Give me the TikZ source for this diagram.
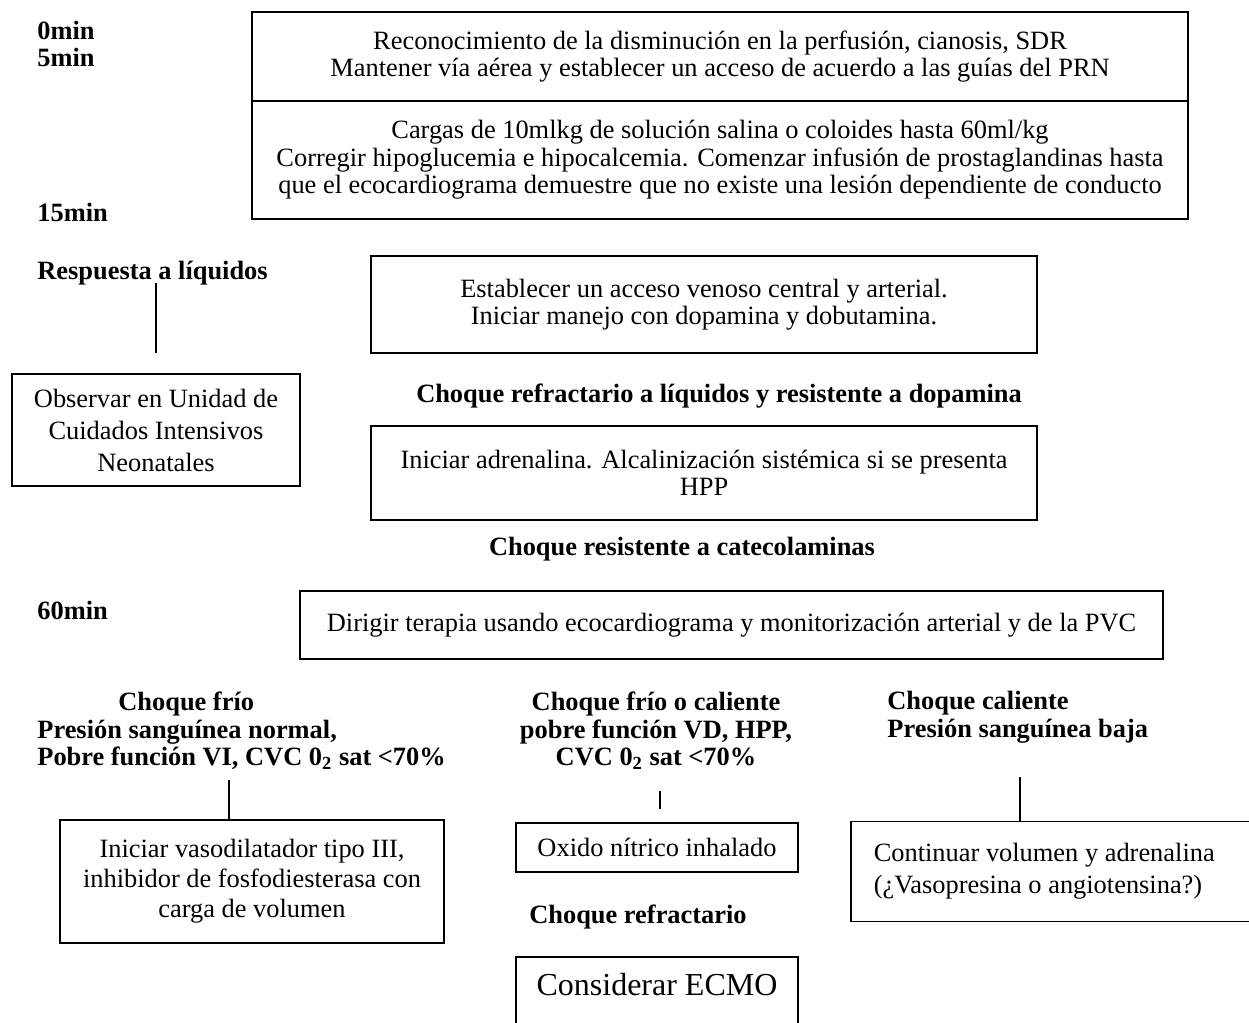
\documentclass[tikz,border=0pt]{standalone}
\usepackage{fontspec}
\setmainfont{Liberation Serif}
\usepackage{tikz}
\usetikzlibrary{positioning,calc}
\newcommand\txtsize{\fontsize{13.2}{13.8}\selectfont}
\tikzset{
  box/.style={draw,line width=0.8pt,inner sep=2pt,align=center,font=\txtsize},
  lab/.style={font=\txtsize\bfseries,align=center,inner sep=0pt},
  tim/.style={lab,anchor=west,align=left},
  lnk/.style={draw,line width=0.8pt},
}

\begin{document}
\begin{tikzpicture}[x=0.5pt,y=-0.5pt]
\useasboundingbox (0,0) rectangle (1249,1023);
\clip (0,0) rectangle (1249,1023);
% time marks
\node[tim] (t0) at (37,44) {0min\\5min};
\node[tim] (t15) at (37,212) {15min};
\node[tim] (t60) at (37,610) {60min};
% first steps
\node[box,minimum width=468pt,minimum height=44.5pt] (rec) at (720,56.5)
  {Reconocimiento de la disminución en la perfusión, cianosis, SDR\\
   Mantener vía aérea y establecer un acceso de acuerdo a las guías del PRN};
\node[box,minimum width=468pt,minimum height=59pt] (carg) at (720,160)
  {Cargas de 10mlkg de solución salina o coloides hasta 60ml/kg\\
   Corregir hipoglucemia e hipocalcemia. Comenzar infusión de prostaglandinas hasta\\
   que el ecocardiograma demuestre que no existe una lesión dependiente de conducto};
% fluid response
\node[tim] (resp) at (37,273) {Respuesta a líquidos};
\node[box,minimum width=144pt,minimum height=56pt,font=\fontsize{13.2}{16}\selectfont] (obs) at (156,430)
  {Observar en Unidad de\\Cuidados Intensivos\\Neonatales};
\coordinate (r1) at (156,353);
\draw[lnk] (obs.north |- resp.south) ++(0,-2) -- (r1);
\node[box,minimum width=333pt,minimum height=48.5pt] (est) at (704,304.5)
  {Establecer un acceso venoso central y arterial.\\
   Iniciar manejo con dopamina y dobutamina.};
\node[lab] (refl) at (719,396) {Choque refractario a líquidos y resistente a dopamina};
\node[box,minimum width=333pt,minimum height=47pt] (adr) at (704,473)
  {Iniciar adrenalina. Alcalinización sistémica si se presenta\\HPP};
\node[lab] (cat) at (682,549) {Choque resistente a catecolaminas};
\node[box,minimum width=431.5pt,minimum height=34pt] (dir) at (731.5,625)
  {Dirigir terapia usando ecocardiograma y monitorización arterial y de la PVC};
% shock types
\node[tim] (frio) at (37,731)
  {\hspace*{40.5pt}Choque frío\\Presión sanguínea normal,\\
   Pobre función VI, CVC 0\textsubscript{2} sat <70\%};
\node[lab] (fc) at (656,731)
  {Choque frío o caliente\\pobre función VD, HPP,\\CVC 0\textsubscript{2} sat <70\%};
\node[tim] (cal) at (887,717) {Choque caliente\\Presión sanguínea baja};
\node[box,minimum width=192pt,minimum height=61.5pt,font=\fontsize{13.2}{15}\selectfont] (vaso) at (252,881.5)
  {Iniciar vasodilatador tipo III,\\inhibidor de fosfodiesterasa con\\carga de volumen};
\node[box,minimum width=141pt,minimum height=24.5pt] (oxi) at (657,847.5)
  {Oxido nítrico inhalado};
\node[lab] (refr) at (638,917) {Choque refractario};
\node[box,anchor=north,minimum width=141pt,text height=17.5pt,text depth=20pt,
  font=\fontsize{16}{18}\selectfont] (ecmo) at (657,956) {Considerar ECMO};
\node[box,anchor=west,align=flush left,inner xsep=11.5pt,text width=182pt,minimum height=50pt,
  font=\fontsize{13.2}{16}\selectfont] (cont) at (850,871.5)
  {Continuar volumen y adrenalina\\(¿Vasopresina o angiotensina?)};
\coordinate (f1) at (229,780);
\draw[lnk] (f1) -- (f1 |- vaso.north);
\coordinate (c1) at (660,791);
\coordinate (c2) at (660,809);
\draw[lnk] (c1) -- (c2);
\coordinate (k1) at (1020,777);
\draw[lnk] (k1) -- (k1 |- cont.north);
\end{tikzpicture}
\end{document}
